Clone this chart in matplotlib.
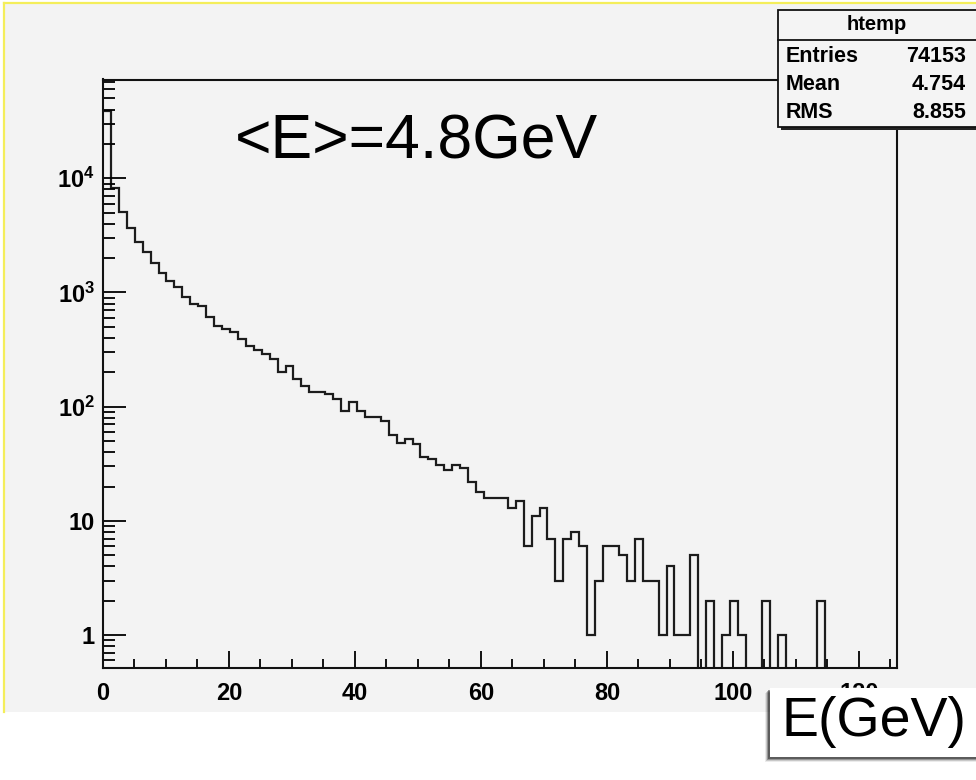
import numpy as np
import matplotlib
matplotlib.use("Agg")
import matplotlib.pyplot as plt
from matplotlib import font_manager
from matplotlib.patches import Rectangle
from matplotlib.ticker import FixedLocator, LogLocator, NullFormatter, FixedFormatter

# ---------------- data ----------------
x_min, x_max, n_bins = 0.0, 126.0, 100
counts = [
    38800, 8200, 5100, 3650, 2750, 2250, 1800, 1480, 1270, 1110,
    910, 790, 766, 610, 510, 480, 455, 392, 342, 313,
    289, 263, 200, 228, 176, 153, 134, 134, 129, 117,
    92, 109, 92, 81, 81, 75, 57, 48, 52, 47,
    36, 35, 31, 28, 31, 29, 22, 18, 16, 16,
    16, 13, 15, 6, 11, 13, 7, 3, 7, 8,
    6, 1, 3, 6, 6, 5, 3, 7, 3, 3,
    1, 4, 1, 1, 5, 0, 2, 0, 1, 2,
    1, 0, 0, 2, 0, 1, 0, 0, 0, 0,
    2, 0, 0, 0, 0, 0, 0, 0, 0, 0,
]
x_ticks = [0, 20, 40, 60, 80, 100, 120]
x_tick_labels = ["0", "20", "40", "60", "80", "100", "120"]
y_ticks = [1, 10, 100, 1000, 10000]
y_tick_labels = ["1", "10", r"$\mathbf{10^{2}}$", r"$\mathbf{10^{3}}$", r"$\mathbf{10^{4}}$"]
y_lim = (0.512, 7.33e4)
stats_title = "htemp"
stats_names = ["Entries", "Mean", "RMS"]
stats_values = ["74153", "4.754", "8.855"]
annotation = "<E>=4.8GeV"
x_title = "E(GeV)"

# ---------------- fonts ----------------
names = {f.name for f in font_manager.fontManager.ttflist}
tick_font = "Liberation Sans Narrow" if "Liberation Sans Narrow" in names else "Liberation Sans"
plt.rcParams["font.family"] = ["Liberation Sans", "DejaVu Sans"]
plt.rcParams["mathtext.fontset"] = "custom"
plt.rcParams["mathtext.rm"] = tick_font + ":bold"
plt.rcParams["mathtext.bf"] = tick_font + ":bold"
plt.rcParams["mathtext.it"] = tick_font + ":bold"

W, H = 976, 780
fig = plt.figure(figsize=(W / 100, H / 100), dpi=100)
fig.patch.set_facecolor("white")

canvas_gray = "#f3f3f3"

# overlay axes in pixel coordinates for decorations (background canvas)
ov = fig.add_axes([0, 0, 1, 1], zorder=0)
ov.set_xlim(0, W)
ov.set_ylim(H, 0)
ov.axis("off")
ov.add_patch(Rectangle((3.5, 3), W - 3.5, 709, facecolor=canvas_gray, edgecolor="none"))
ov.plot([3.5, 3.5], [3, 712], color="#f4ee5a", lw=1.6)
ov.plot([3.5, W], [3, 3], color="#f4ee5a", lw=1.6)

# main axes
L, R, T, B = 103, 896.7, 79.5, 668.3
ax = fig.add_axes([L / W, 1 - B / H, (R - L) / W, (B - T) / H], zorder=1)
ax.set_facecolor(canvas_gray)
edges = np.linspace(x_min, x_max, n_bins + 1)
vals = np.maximum(np.asarray(counts, dtype=float), 0.05)
ax.stairs(vals, edges, color="#1c1c1c", lw=1.6, baseline=None)
ax.set_yscale("log")
ax.set_xlim(x_min, x_max)
ax.set_ylim(*y_lim)

for s in ax.spines.values():
    s.set_linewidth(1.5)
    s.set_color("#111111")

ax.xaxis.set_major_locator(FixedLocator(x_ticks))
ax.xaxis.set_major_formatter(FixedFormatter(x_tick_labels))
ax.xaxis.set_minor_locator(FixedLocator(np.arange(5, x_max, 5)))
ax.yaxis.set_major_locator(FixedLocator(y_ticks))
ax.yaxis.set_major_formatter(FixedFormatter(y_tick_labels))
ax.yaxis.set_minor_locator(LogLocator(base=10, subs=np.arange(2, 10), numticks=20))
ax.yaxis.set_minor_formatter(NullFormatter())

ax.tick_params(axis="x", which="major", direction="in", length=12.2, width=1.3,
               top=False, bottom=True, pad=10, labelsize=17)
ax.tick_params(axis="x", which="minor", direction="in", length=6.5, width=1.3,
               top=False, bottom=True)
ax.tick_params(axis="y", which="major", direction="in", length=16.3, width=1.3,
               right=False, left=True, pad=6, labelsize=17)
ax.tick_params(axis="y", which="minor", direction="in", length=8.6, width=1.3,
               right=False, left=True)
for lab in ax.get_xticklabels() + ax.get_yticklabels():
    lab.set_fontfamily(tick_font)
    lab.set_fontweight("bold")

# annotation inside plot
fig.text(235 / W, 1 - 142 / H, annotation, fontsize=45, color="black",
         ha="left", va="center", fontfamily="Liberation Sans", zorder=5)

# top overlay for stats box and x title
ov2 = fig.add_axes([0, 0, 1, 1], zorder=3)
ov2.set_xlim(0, W)
ov2.set_ylim(H, 0)
ov2.axis("off")
ov2.patch.set_alpha(0)

# stats box (shadow + box)
ov2.add_patch(Rectangle((781, 13), W - 781, 117, facecolor="#222222", edgecolor="none"))
ov2.add_patch(Rectangle((778, 10), W - 778 + 5, 117, facecolor="#f4f4f4",
                        edgecolor="#111111", lw=1.3))
ov2.plot([778, W], [40, 40], color="#111111", lw=1.3)
ov2.text(877, 25, stats_title, ha="center", va="center", fontsize=14.5,
         fontweight="bold", fontfamily=tick_font)
for i, (n, v) in enumerate(zip(stats_names, stats_values)):
    yy = 56 + i * 28.5
    ov2.text(786, yy, n, ha="left", va="center", fontsize=15.5, fontweight="bold",
             fontfamily=tick_font)
    ov2.text(966, yy, v, ha="right", va="center", fontsize=15.5, fontweight="bold",
             fontfamily=tick_font)

# x title box with soft shadow on the left and bottom
for k, a in enumerate([0.08, 0.15, 0.25, 0.38]):
    off = 5 - k
    ov2.add_patch(Rectangle((770 - off, 688 + off), W - 770 + off, 69, facecolor="black",
                            alpha=a, edgecolor="none"))
ov2.add_patch(Rectangle((770, 688), W - 770, 69, facecolor="white", edgecolor="none"))
ov2.text(874, 722, x_title, ha="center", va="center", fontsize=40,
         fontfamily="Liberation Sans", color="black")

fig.savefig("out.png", dpi=100, facecolor=fig.get_facecolor())
